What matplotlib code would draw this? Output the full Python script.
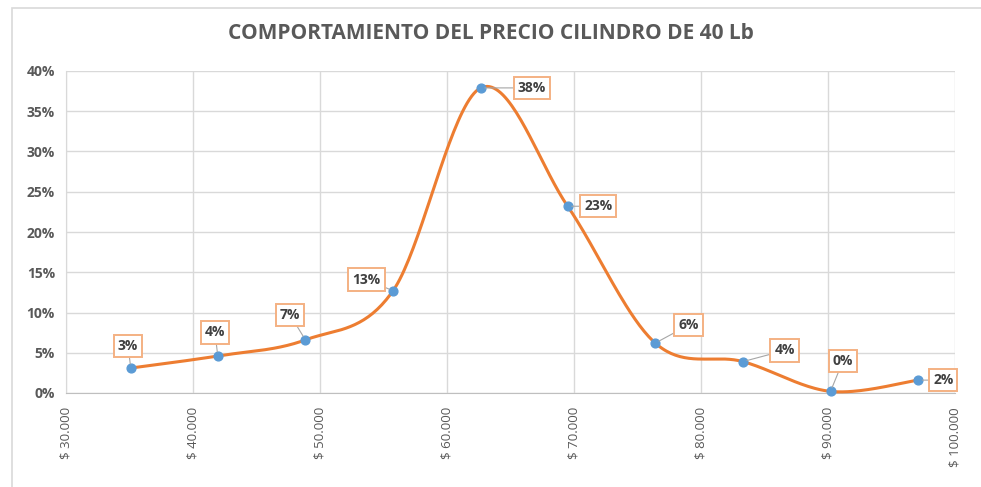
import matplotlib.pyplot as plt
import numpy as np
from matplotlib.patches import Rectangle
from matplotlib.ticker import FuncFormatter, MultipleLocator

# datos
precio = [35100, 41950, 48850, 55750, 62650, 69500, 76400, 83300, 90200, 97100]
porcentaje = [0.031, 0.046, 0.066, 0.127, 0.379, 0.232, 0.062, 0.039, 0.002, 0.016]
etiquetas = ['3%', '4%', '7%', '13%', '38%', '23%', '6%', '4%', '0%', '2%']
# desplazamiento de cada etiqueta (puntos de pantalla)
offsets = [(-2, 16), (-2, 17), (-11, 18), (-19, 8), (37, 0), (22, 0), (24, 13), (30, 8), (9, 22), (18, 0)]

plt.rcParams['font.family'] = ['Open Sans', 'DejaVu Sans']

fig = plt.figure(figsize=(9.81, 4.87), dpi=100)
fig.patches.append(Rectangle((12 / 981, -0.1), 1.1, 1.1 - 8 / 487, transform=fig.transFigure,
                             fill=False, edgecolor='#D9D9D9', linewidth=1.2))
ax = fig.add_axes([66 / 981, 1 - 393 / 487, (955 - 66) / 981, (393 - 71) / 487])

# linea suavizada tipo Excel (Catmull-Rom)
x = np.array(precio, dtype=float)
y = np.array(porcentaje)
px = np.concatenate([[x[0]], x, [x[-1]]])
py = np.concatenate([[y[0]], y, [y[-1]]])
cx, cy = [], []
t = np.linspace(0, 1, 40)
for i in range(1, len(px) - 2):
    p0, p1, p2, p3 = px[i - 1], px[i], px[i + 1], px[i + 2]
    q0, q1, q2, q3 = py[i - 1], py[i], py[i + 1], py[i + 2]
    b1x, b1y = p1 + (p2 - p0) / 6, q1 + (q2 - q0) / 6
    b2x, b2y = p2 - (p3 - p1) / 6, q2 - (q3 - q1) / 6
    cx.extend((1 - t) ** 3 * p1 + 3 * (1 - t) ** 2 * t * b1x + 3 * (1 - t) * t ** 2 * b2x + t ** 3 * p2)
    cy.extend((1 - t) ** 3 * q1 + 3 * (1 - t) ** 2 * t * b1y + 3 * (1 - t) * t ** 2 * b2y + t ** 3 * q2)

ax.plot(cx, cy, color='#ED7D31', linewidth=2.2, zorder=3, clip_on=False)
ax.scatter(precio, porcentaje, s=40, color='#5B9BD5', zorder=4, clip_on=False)

for xi, yi, lab, off in zip(precio, porcentaje, etiquetas, offsets):
    ax.annotate(lab, (xi, yi), xytext=off, textcoords='offset points', ha='center', va='center',
                fontsize=10, fontweight='bold', color='#404040', zorder=5,
                bbox=dict(boxstyle='square,pad=0.3', fc='white', ec='#F4B183', lw=1.4),
                arrowprops=dict(arrowstyle='-', color='#A6A6A6', lw=0.8, shrinkA=0, shrinkB=3))

ax.set_xlim(30000, 100000)
ax.set_ylim(0, 0.40)
ax.xaxis.set_major_locator(MultipleLocator(10000))
ax.yaxis.set_major_locator(MultipleLocator(0.05))
ax.xaxis.set_major_formatter(FuncFormatter(lambda v, p: '$ ' + f'{int(v):,}'.replace(',', '.')))
ax.yaxis.set_major_formatter(FuncFormatter(lambda v, p: f'{v * 100:.0f}%'))
ax.grid(True, color='#D9D9D9', linewidth=1)
ax.set_axisbelow(True)
for s in ['top', 'right']:
    ax.spines[s].set_visible(False)
ax.spines['left'].set_color('#D9D9D9')
ax.spines['bottom'].set_color('#BFBFBF')
ax.tick_params(length=0, colors='#595959')
ax.tick_params(axis='x', labelrotation=90, labelsize=9.5, pad=10)
ax.tick_params(axis='y', labelsize=10, pad=8)
for lbl in ax.get_yticklabels():
    lbl.set_fontweight('bold')

fig.text(0.5, 1 - 33 / 487, 'COMPORTAMIENTO DEL PRECIO CILINDRO DE 40 Lb', ha='center', va='center',
         fontsize=15, fontweight='bold', color='#595959')

fig.savefig('out.png', dpi=100)
